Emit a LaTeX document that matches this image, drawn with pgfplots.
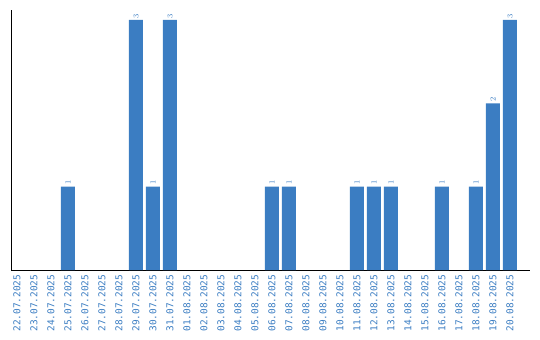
\documentclass[border=0pt]{standalone}
\usepackage{pgfplots}
\pgfplotsset{compat=1.18}
\usepackage{fontspec}
\setmainfont{DejaVu Sans}
\setmonofont{DejaVu Sans Mono}
\definecolor{barblue}{HTML}{3B7DC2}
\begin{document}
\begin{tikzpicture}[x=1bp,y=1bp]
\useasboundingbox (-11bp,-70bp) rectangle (529bp,270bp);
\begin{axis}[
  at={(0,0)}, anchor=south west,
  scale only axis,
  width=519bp, height=260bp,
  xmin=-0.35, xmax=30.18,
  ymin=0, ymax=3.12,
  axis x line*=bottom, axis y line*=left,
  axis line style={black, line width=0.9pt, -},
  xtick={0,...,29},
  xticklabels={22.07.2025,23.07.2025,24.07.2025,25.07.2025,26.07.2025,27.07.2025,28.07.2025,29.07.2025,30.07.2025,31.07.2025,01.08.2025,02.08.2025,03.08.2025,04.08.2025,05.08.2025,06.08.2025,07.08.2025,08.08.2025,09.08.2025,10.08.2025,11.08.2025,12.08.2025,13.08.2025,14.08.2025,15.08.2025,16.08.2025,17.08.2025,18.08.2025,19.08.2025,20.08.2025},
  x tick label style={rotate=90, anchor=east, font=\ttfamily\fontsize{9.5}{11}\selectfont, text=barblue, inner xsep=4.5bp, inner ysep=0pt},
  major tick length=0pt,
  ytick=\empty,
  ybar, bar width=14bp,
  nodes near coords,
  every node near coord/.append style={rotate=90, anchor=west, font=\ttfamily\fontsize{8.5}{9}\selectfont, text=barblue, inner sep=1.5pt},
  clip=false,
]
\addplot[fill=barblue, draw=none, bar shift=0pt] coordinates {
 (3,1) (7,3) (8,1) (9,3) (15,1) (16,1) (20,1) (21,1) (22,1) (25,1) (27,1) (28,2) (29,3)
};
\end{axis}
\end{tikzpicture}
\end{document}
